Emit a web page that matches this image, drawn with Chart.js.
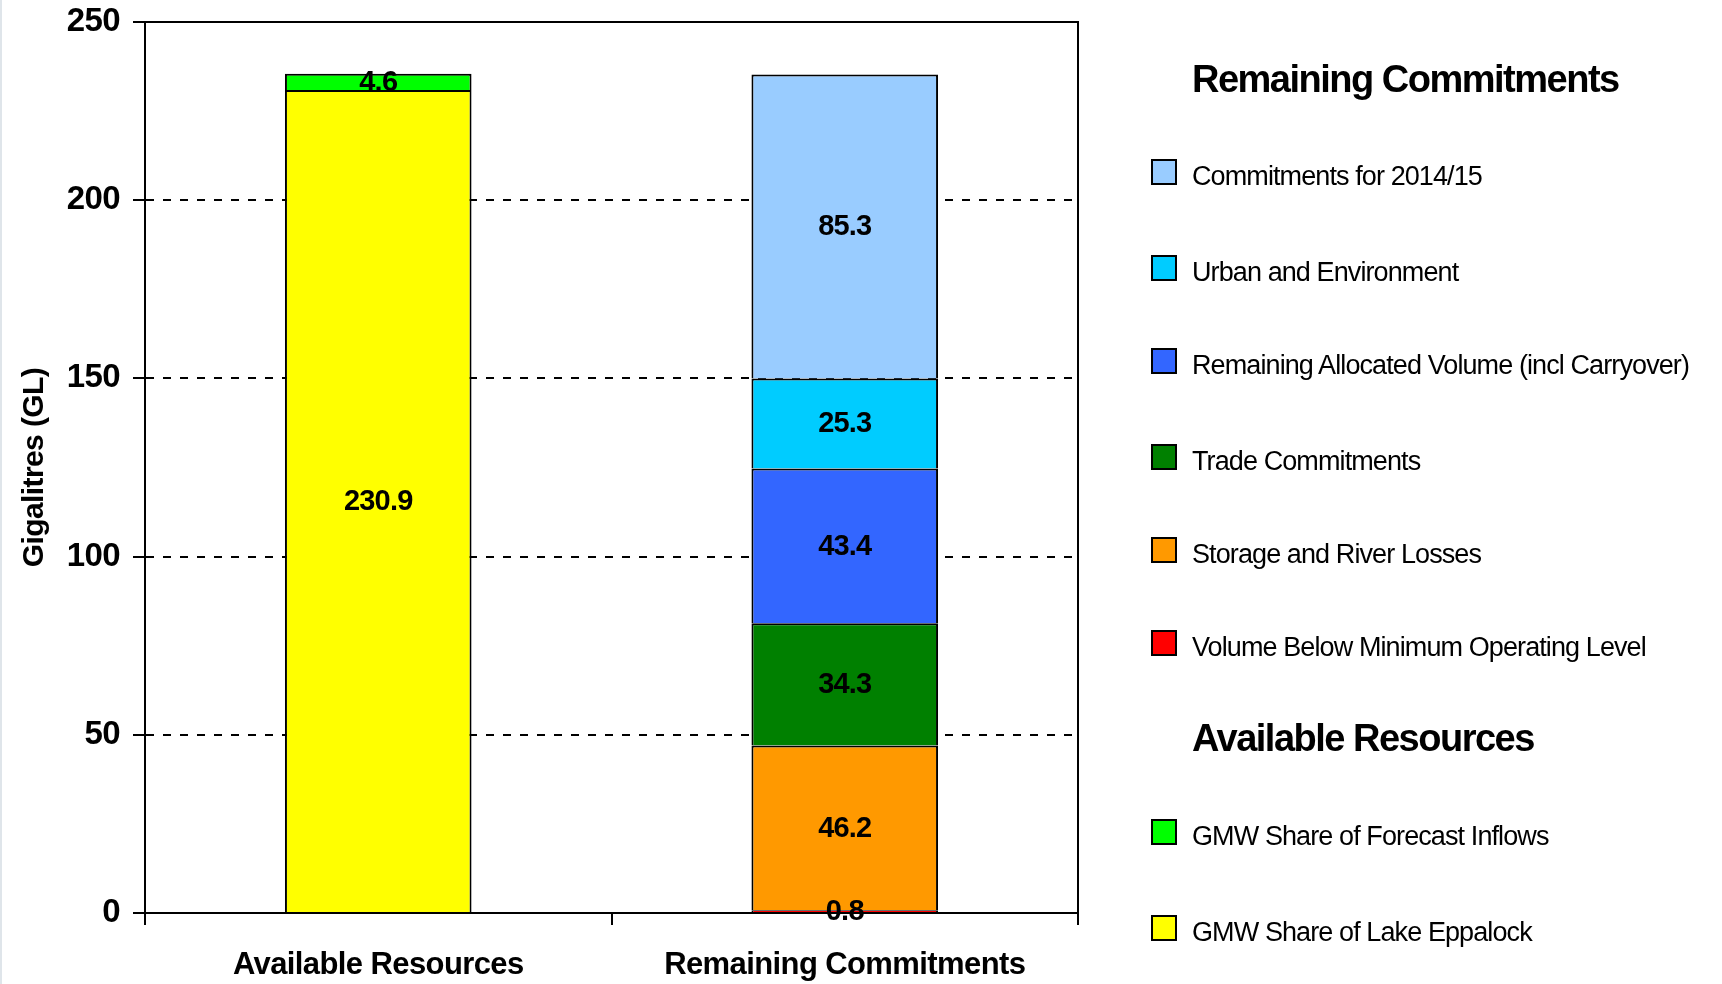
<!DOCTYPE html>
<html><head><meta charset="utf-8">
<script src="https://cdn.jsdelivr.net/npm/chart.js@4"></script>
<style>
html,body{margin:0;padding:0;background:#fff;overflow:hidden}
#wrap{position:relative;width:1722px;height:984px}
#c{position:absolute;left:0;top:0}
#edge{position:absolute;left:0;top:0;width:2px;height:984px;background:#dfe5ea}
.lg{position:absolute;font-family:'Liberation Sans',Arial,sans-serif;color:#000;white-space:nowrap;line-height:1}
.hd{font-weight:bold;font-size:38px;left:1192px;letter-spacing:-1.5px}
.it{font-size:27px;left:1192px;letter-spacing:-0.9px}
.bx{position:absolute;left:1151px;width:26px;height:26px;box-sizing:border-box;border:2px solid #000}
</style></head>
<body><div id="wrap"><canvas id="c" width="1722" height="984"></canvas><div id="edge"></div></div>
<script>
// ---- data ----
const categories = ['Available Resources', 'Remaining Commitments'];
const lakeEppalock      = [230.9, null];
const forecastInflows   = [4.6, null];
const belowMOL          = [null, 0.8];
const storageLosses     = [null, 46.2];
const tradeCommitments  = [null, 34.3];
const remainingAllocated= [null, 43.4];
const urbanEnvironment  = [null, 25.3];
const commitments201415 = [null, 85.3];
const yTicks = [0, 50, 100, 150, 200, 250];

const FONT = "'Liberation Sans', Arial, sans-serif";
Chart.defaults.font.family = FONT;
Chart.defaults.color = '#000';

const datasets = [
  {key:'lake', label:'GMW Share of Lake Eppalock', data:lakeEppalock, backgroundColor:'#FFFF00'},
  {key:'inflow', label:'GMW Share of Forecast Inflows', data:forecastInflows, backgroundColor:'#00FF00'},
  {key:'mol', label:'Volume Below Minimum Operating Level', data:belowMOL, backgroundColor:'#FF0000'},
  {key:'loss', label:'Storage and River Losses', data:storageLosses, backgroundColor:'#FF9900'},
  {key:'trade', label:'Trade Commitments', data:tradeCommitments, backgroundColor:'#008000'},
  {key:'alloc', label:'Remaining Allocated Volume (incl Carryover)', data:remainingAllocated, backgroundColor:'#3366FF'},
  {key:'urban', label:'Urban and Environment', data:urbanEnvironment, backgroundColor:'#00CCFF'},
  {key:'commit', label:'Commitments for 2014/15', data:commitments201415, backgroundColor:'#99CCFF'}
].map(d => Object.assign(d, {borderColor:'#000', borderWidth:2, barPercentage:0.4, categoryPercentage:1}));

const tightText = {
  id:'tightText',
  beforeDraw(chart){ chart.ctx.letterSpacing = '-0.6px'; }
};

const valueLabels = {
  id:'valueLabels',
  afterDatasetsDraw(chart){
    const ctx = chart.ctx;
    ctx.save();
    ctx.font = "bold 29px " + FONT;
    ctx.letterSpacing = '-0.8px';
    ctx.fillStyle = '#000';
    ctx.textAlign = 'center';
    ctx.textBaseline = 'middle';
    chart.data.datasets.forEach((ds, i) => {
      const meta = chart.getDatasetMeta(i);
      meta.data.forEach((el, j) => {
        const v = ds.data[j];
        if (v === null || v === undefined) return;
        ctx.fillText(v.toFixed(1), el.x, (el.y + el.base) / 2 + 1);
      });
    });
    ctx.restore();
  }
};

const frame = {
  id:'frame',
  afterDraw(chart){
    const {ctx, chartArea:a} = chart;
    ctx.save();
    ctx.strokeStyle = '#000';
    ctx.lineWidth = 2;
    ctx.beginPath();
    ctx.moveTo(a.left - 12, a.top); ctx.lineTo(a.right + 1, a.top);
    ctx.moveTo(a.right, a.top); ctx.lineTo(a.right, a.bottom);
    ctx.moveTo(a.left, a.bottom); ctx.lineTo(a.right, a.bottom);
    ctx.stroke();
    ctx.restore();
  }
};

new Chart(document.getElementById('c'), {
  type:'bar',
  data:{labels:categories, datasets},
  options:{
    responsive:false, animation:false, devicePixelRatio:1,
    layout:{padding:{left:0, top:22, right:644, bottom:0}},
    plugins:{legend:{display:false}, tooltip:{enabled:false}},
    scales:{
      x:{
        stacked:true,
        grid:{display:true, offset:true, drawOnChartArea:false, drawTicks:true, tickLength:12, color:'#000', lineWidth:2},
        border:{display:true, color:'#000', width:2},
        ticks:{font:{size:31, weight:'bold'}, padding:22, color:'#000', maxRotation:0},
        afterFit(s){ s.height = 71; s.paddingLeft = 0; s.paddingRight = 0; }
      },
      y:{
        stacked:true, min:0, max:250,
        afterBuildTicks(s){ s.ticks = yTicks.map(v => ({value:v})); },
        ticks:{font:{size:33, weight:'bold'}, padding:13, color:'#000'},
        grid:{
          color:(c) => (c.tick && (c.tick.value === 0 || c.tick.value === 250)) ? 'rgba(0,0,0,0)' : '#000',
          lineWidth:2, tickColor:'#000', tickWidth:2, tickLength:12, drawTicks:true
        },
        border:{display:true, color:'#000', width:2, dash:[8,9]},
        title:{display:true, text:'Gigalitres (GL)', font:{size:30, weight:'bold'}, color:'#000', padding:{top:17, bottom:0}},
        afterFit(s){ s.width = 145; s.paddingTop = 0; s.paddingBottom = 0; }
      }
    }
  },
  plugins:[tightText, valueLabels, frame]
});

// ---- custom grouped legend (HTML text) ----
const byKey = Object.fromEntries(datasets.map(d => [d.key, d]));
const legendGroups = [
  {title:'Remaining Commitments', y:79, items:[['commit',172],['urban',268],['alloc',361],['trade',457],['loss',550],['mol',643]]},
  {title:'Available Resources', y:738, items:[['inflow',832],['lake',928]]}
];
const wrap = document.getElementById('wrap');
legendGroups.forEach(g => {
  const h = document.createElement('div');
  h.className = 'lg hd'; h.textContent = g.title; h.style.top = (g.y - 19) + 'px';
  wrap.appendChild(h);
  g.items.forEach(([k, y]) => {
    const d = byKey[k];
    const b = document.createElement('div');
    b.className = 'bx'; b.style.background = d.backgroundColor; b.style.top = (y - 13) + 'px';
    wrap.appendChild(b);
    const t = document.createElement('div');
    t.className = 'lg it'; t.textContent = d.label; t.style.top = (y + 4 - 13.5) + 'px';
    wrap.appendChild(t);
  });
});
</script></body></html>
